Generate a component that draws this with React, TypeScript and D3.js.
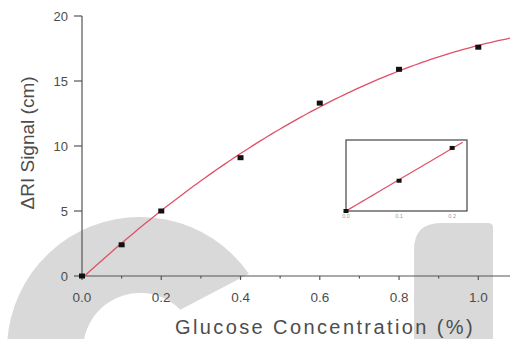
import React from "react";
import * as d3 from "d3";

const concentration = [0, 0.1, 0.2, 0.4, 0.6, 0.8, 1.0];
const riSignal = [0, 2.4, 5.0, 9.1, 13.3, 15.9, 17.6];
const xTicks = [0, 0.2, 0.4, 0.6, 0.8, 1.0];
const xMinorTicks = [0.1, 0.3, 0.5, 0.7, 0.9];
const yTicks = [0, 5, 10, 15, 20];
const insetConcentration = [0, 0.1, 0.2];
const insetSignal = [0, 2.4, 5.0];
const insetTicks = [0, 0.1, 0.2];

function quadFit(xs: number[], ys: number[]) {
  const n = xs.length;
  let s1 = 0, s2 = 0, s3 = 0, s4 = 0, sy = 0, sxy = 0, sx2y = 0;
  for (let i = 0; i < n; i++) {
    const x = xs[i], y = ys[i];
    s1 += x; s2 += x * x; s3 += x * x * x; s4 += x * x * x * x;
    sy += y; sxy += x * y; sx2y += x * x * y;
  }
  const M = [
    [n, s1, s2, sy],
    [s1, s2, s3, sxy],
    [s2, s3, s4, sx2y],
  ];
  for (let c = 0; c < 3; c++) {
    for (let r = c + 1; r < 3; r++) {
      const f = M[r][c] / M[c][c];
      for (let k = c; k < 4; k++) M[r][k] -= f * M[c][k];
    }
  }
  const sol = [0, 0, 0];
  for (let r = 2; r >= 0; r--) {
    let v = M[r][3];
    for (let k = r + 1; k < 3; k++) v -= M[r][k] * sol[k];
    sol[r] = v / M[r][r];
  }
  return (x: number) => sol[0] + sol[1] * x + sol[2] * x * x;
}

function linFitOrigin(xs: number[], ys: number[]) {
  let sxy = 0, sxx = 0;
  xs.forEach((x, i) => { sxy += x * ys[i]; sxx += x * x; });
  const m = sxy / sxx;
  return (x: number) => m * x;
}

const rad = (deg: number) => (deg * Math.PI) / 180;

export default function App() {
  const W = 510, H = 339;
  const x = d3.scaleLinear().domain([0, 1.08]).range([82, 510]);
  const y = d3.scaleLinear().domain([0, 20]).range([276, 16]);
  const fit = quadFit(concentration, riSignal);
  const curveX = d3.range(0, 1.0801, 0.01);
  const line = d3.line<number>().x((d) => x(d)).y((d) => y(fit(d)));

  const ix = d3.scaleLinear().domain([0, 0.228]).range([346, 467]);
  const iy = d3.scaleLinear().domain([0, 5.63]).range([211, 140]);
  const ifit = linFitOrigin(insetConcentration, insetSignal);
  const iline = d3.line<number>().x((d) => ix(d)).y((d) => iy(ifit(d)));

  const textColor = "#4d4d4d";
  const axisColor = "#555";
  const wm = "#d9d9d9";

  // watermark ring
  const cx = 140, cy = 350, ro = 133, ri = 57;
  const p = d3.path();
  p.moveTo(cx + ro * Math.cos(rad(150)), cy + ro * Math.sin(rad(150)));
  p.arc(cx, cy, ro, rad(150), rad(325), false);
  p.lineTo(cx + ri * Math.cos(rad(315)), cy + ri * Math.sin(rad(315)));
  p.arc(cx, cy, ri, rad(315), rad(150), true);
  p.closePath();

  return (
    <svg width={W} height={H} style={{ position: "absolute", left: 0, top: 0, background: "#fff" }}
      fontFamily="'Liberation Sans', Arial, sans-serif">
      <rect x={0} y={0} width={W} height={H} fill="#fff" />
      <g fill={wm}>
        <path d={p.toString()} />
        <path d="M414,339 L414,250 Q414,223 441,223 L488,223 Q493,223 493,228 L493,339 Z" />
      </g>
      <defs>
        <clipPath id="plotclip">
          <rect x={82} y={0} width={428} height={276} />
        </clipPath>
      </defs>
      <line x1={82} y1={16} x2={82} y2={276} stroke={axisColor} strokeWidth={1.2} />
      <line x1={82} y1={276} x2={510} y2={276} stroke={axisColor} strokeWidth={1.2} />
      {yTicks.map((t) => (
        <g key={"y" + t}>
          <line x1={74} x2={82} y1={y(t)} y2={y(t)} stroke={axisColor} strokeWidth={1.2} />
          <text x={68} y={y(t)} dy="0.36em" textAnchor="end" fontSize={13} fill={textColor}>{t}</text>
        </g>
      ))}
      {xTicks.map((t) => (
        <g key={"x" + t}>
          <line x1={x(t)} x2={x(t)} y1={276} y2={280} stroke={axisColor} strokeWidth={1.2} />
          <text x={x(t)} y={302} textAnchor="middle" fontSize={13.5} fill={textColor}>{t.toFixed(1)}</text>
        </g>
      ))}
      {xMinorTicks.map((t) => (
        <line key={"m" + t} x1={x(t)} x2={x(t)} y1={276} y2={278.5} stroke={axisColor} strokeWidth={1.2} />
      ))}
      <text x={325} y={334} textAnchor="middle" fontSize={20} letterSpacing={2.4} fill={textColor}>
        Glucose Concentration (%)
      </text>
      <text transform="translate(34,143) rotate(-90)" textAnchor="middle" fontSize={19} fill={textColor}>
        ΔRI Signal (cm)
      </text>
      <path d={line(curveX) as string} fill="none" stroke="#e05068" strokeWidth={1.3} clipPath="url(#plotclip)" />
      {concentration.map((c, i) => (
        <rect key={"p" + i} x={x(c) - 3} y={y(riSignal[i]) - 2.5} width={6} height={5} fill="#111" />
      ))}
      <rect x={346} y={140} width={121} height={71} fill="#fff" stroke="#444" strokeWidth={1.2} />
      <path d={iline(d3.range(0, 0.2201, 0.01)) as string} fill="none" stroke="#e05068" strokeWidth={1.2} />
      {insetConcentration.map((c, i) => (
        <rect key={"ip" + i} x={ix(c) - 2.5} y={iy(insetSignal[i]) - 2} width={5} height={4} fill="#111" />
      ))}
      {insetTicks.map((t) => (
        <text key={"it" + t} x={ix(t)} y={218} textAnchor="middle" fontSize={5.5} fill="#999">{t.toFixed(1)}</text>
      ))}
    </svg>
  );
}
